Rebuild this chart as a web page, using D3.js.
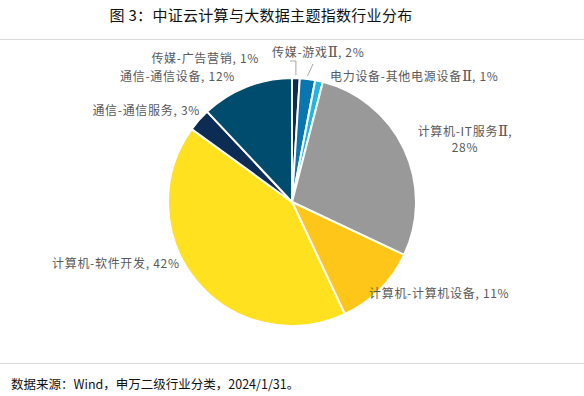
<!DOCTYPE html>
<html>
<head>
<meta charset="utf-8">
<script src="https://cdn.jsdelivr.net/npm/d3@7"></script>
<style>
  body { margin: 0; background: #fff; }
  svg text { font-family: "Noto Sans CJK SC", "Liberation Sans", sans-serif; }
</style>
</head>
<body>
<div class="wrapper"></div>
<script>
// industry breakdown, clockwise from 12 o'clock
var categories = ["传媒-广告营销", "传媒-游戏Ⅱ", "电力设备-其他电源设备Ⅱ", "计算机-IT服务Ⅱ",
                  "计算机-计算机设备", "计算机-软件开发", "通信-通信服务", "通信-通信设备"];
var shares = [1, 2, 1, 28, 11, 42, 3, 12];
var colors = ["#0d2c54", "#0a76b0", "#22b5e3", "#999999", "#ffc61a", "#ffe11f", "#0d2c54", "#004c6f"];

var width = 584, height = 396;
var cx = 292, cy = 202, radius = 124;

var svg = d3.select(".wrapper").append("svg")
    .attr("width", width)
    .attr("height", height);

svg.append("text")
    .attr("x", 261)
    .attr("y", 21)
    .attr("text-anchor", "middle")
    .attr("font-size", 15)
    .attr("letter-spacing", 0.3)
    .attr("fill", "#111")
    .text("图 3：中证云计算与大数据主题指数行业分布");

svg.append("line").attr("x1", 0).attr("x2", width).attr("y1", 39.5).attr("y2", 39.5)
    .attr("stroke", "#d9d9d9");
svg.append("line").attr("x1", 0).attr("x2", width).attr("y1", 363.5).attr("y2", 363.5)
    .attr("stroke", "#d9d9d9");

svg.append("text")
    .attr("x", 11)
    .attr("y", 389)
    .attr("font-size", 12.5)
    .attr("fill", "#111")
    .text("数据来源：Wind，申万二级行业分类，2024/1/31。");

var pie = d3.pie().sort(null).value(function(d) { return d; });
var arc = d3.arc().innerRadius(0).outerRadius(radius);
var arcs = pie(shares);

var g = svg.append("g").attr("transform", "translate(" + cx + "," + cy + ")");

g.selectAll("path")
    .data(arcs)
    .enter().append("path")
    .attr("d", arc)
    .attr("fill", function(d, i) { return colors[i]; })
    .attr("stroke", "#fff")
    .attr("stroke-width", 2)
    .attr("stroke-linejoin", "round");

// label layout (text positions only), relative to page
var labels = [
    { x: 259, y: 63, anchor: "end", lines: [categories[0] + ", " + shares[0] + "%"] },
    { x: 272, y: 57, anchor: "start", lines: [categories[1] + ", " + shares[1] + "%"] },
    { x: 330, y: 81, anchor: "start", lines: [categories[2] + ", " + shares[2] + "%"] },
    { x: 465, y: 136, anchor: "middle", lines: [categories[3] + ",", shares[3] + "%"] },
    { x: 369, y: 298, anchor: "start", lines: [categories[4] + ", " + shares[4] + "%"] },
    { x: 52, y: 268, anchor: "start", lines: [categories[5] + ", " + shares[5] + "%"] },
    { x: 200, y: 115, anchor: "end", lines: [categories[6] + ", " + shares[6] + "%"] },
    { x: 235, y: 81, anchor: "end", lines: [categories[7] + ", " + shares[7] + "%"] }
];

labels.forEach(function(l) {
    var t = svg.append("text")
        .attr("x", l.x)
        .attr("y", l.y)
        .attr("text-anchor", l.anchor)
        .attr("font-size", 12)
        .attr("letter-spacing", 0.7)
        .attr("fill", "#595959");
    l.lines.forEach(function(s, k) {
        // the roman numeral gets a narrower serif glyph
        var parts = s.split("Ⅱ");
        parts.forEach(function(p, j) {
            var ts = t.append("tspan").text(p);
            if (j === 0) ts.attr("x", l.x).attr("dy", k ? 16 : 0);
            if (j < parts.length - 1) {
                t.append("tspan").attr("font-family", "DejaVu Serif").attr("font-size", 15)
                    .attr("letter-spacing", 0).text("Ⅱ");
            }
        });
    });
});

// leader lines for the two thin media slices
var outer = d3.arc().innerRadius(radius).outerRadius(radius);
var p0 = outer.centroid(arcs[0]), p1 = outer.centroid(arcs[1]);
svg.append("polyline")
    .attr("points", [[290, 61], [cx + p0[0], 61], [cx + p0[0], cy + p0[1] - 3]].join(" "))
    .attr("fill", "none").attr("stroke", "#a6a6a6").attr("stroke-width", 1);
svg.append("line")
    .attr("x1", 313).attr("y1", 64)
    .attr("x2", cx + p1[0]).attr("y2", cy + p1[1] - 3)
    .attr("stroke", "#a6a6a6").attr("stroke-width", 1);
</script>
</body>
</html>
